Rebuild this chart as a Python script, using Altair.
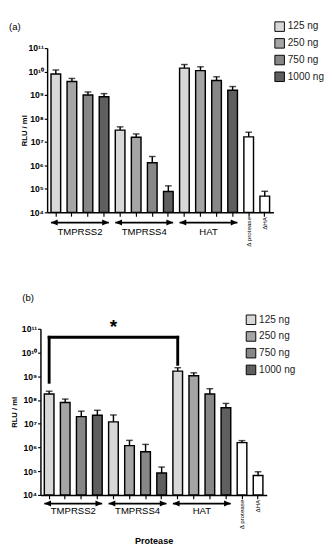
import altair as alt
import pandas as pd

FONT = "Liberation Sans"

# ---- data -------------------------------------------------------------
keys = ["T2_125", "T2_250", "T2_750", "T2_1000",
        "T4_125", "T4_250", "T4_750", "T4_1000",
        "HAT_125", "HAT_250", "HAT_750", "HAT_1000",
        "d_prot", "d_HA"]
doses = ["125 ng", "250 ng", "750 ng", "1000 ng"] * 3 + ["none", "none"]
dose_levels = ["125 ng", "250 ng", "750 ng", "1000 ng"]
dose_colors = ["#d8d8d8", "#a5a5a8", "#878787", "#5f5f5f"]
ctrl_colour = "#ffffff"

a_mean = [7.9e9, 3.8e9, 1.0e9, 8.5e8, 3.2e7, 1.6e7, 1.3e6, 7.8e4,
          1.4e10, 1.1e10, 4.2e9, 1.6e9, 1.65e7, 4.9e4]
a_err = [1.17e10, 5.1e9, 1.35e9, 1.15e9, 4.4e7, 2.2e7, 2.4e6, 1.35e5,
         2.0e10, 1.6e10, 6.0e9, 2.3e9, 2.6e7, 7.9e4]
b_mean = [1.8e8, 7.9e7, 2.0e7, 2.3e7, 1.2e7, 1.2e6, 6.6e5, 8.5e4,
          1.65e9, 1.05e9, 1.8e8, 4.7e7, 1.6e6, 6.6e4]
b_err = [2.35e8, 1.1e8, 3.4e7, 3.7e7, 2.35e7, 2.0e6, 1.35e6, 1.5e5,
         2.3e9, 1.4e9, 3.0e8, 7.2e7, 1.95e6, 9.5e4]

group_names = ["TMPRSS2", "TMPRSS4", "HAT"]
group_first = ["T2_125", "T4_125", "HAT_125"]
group_second = ["T2_250", "T4_250", "HAT_250"]
group_last = ["T2_1000", "T4_1000", "HAT_1000"]
ctrl_keys = ["d_prot", "d_HA"]
ctrl_names = ["Δ protease", "ΔHA"]

y_ticks = [1e4, 1e5, 1e6, 1e7, 1e8, 1e9, 1e10, 1e11]
y_tick_labels = ["10⁴", "10⁵", "10⁶", "10⁷", "10⁸", "10⁹", "10¹⁰", "10¹¹"]

sig_from = ["T2_125"]
sig_to = ["HAT_125"]
sig_mid = ["T4_125"]
sig_top = [4.4e10]
sig_left_low = [5.6e8]
sig_right_low = [3.2e9]
sig_text = ["*"]

label_expr = "[" + ",".join("'%s'" % s for s in y_tick_labels) + "][round(log(datum.value)/LN10)-4]"


def panel(mean, err, cfg):
    h = cfg["h"]
    bars_df = pd.DataFrame({"key": keys, "dose": doses, "mean": mean,
                            "err": err, "base": [1e4] * len(keys)})
    grp_df = pd.DataFrame({"first": group_first, "second": group_second,
                           "last": group_last, "name": group_names})
    ctrl_df = pd.DataFrame({"key": ctrl_keys, "name": ctrl_names})
    tag_df = pd.DataFrame({"tag": [cfg["tag"]]})

    xs_kw = dict(domain=keys, paddingInner=0.4, paddingOuter=0.24)
    if "xrange" in cfg:
        xs_kw["range"] = cfg["xrange"]
    xscale = alt.Scale(**xs_kw)
    yscale = alt.Scale(type="log", domain=[1e4, 1e11])

    xa_kw = dict(labels=False, ticks=True, tickSize=4, tickWidth=1.2,
                 tickColor="black", domainColor="black", domainWidth=1.5,
                 grid=False)
    if "xtitle" in cfg:
        xa_kw.update(title=cfg["xtitle"], titleFontSize=9.5,
                     titleFontWeight="bold", titleColor="black",
                     titlePadding=cfg["xtp"])
    else:
        xa_kw["title"] = None

    ya_kw = dict(values=y_ticks, labelExpr=label_expr, title="RLU / ml",
                 titleFontSize=8, titleFontWeight="bold", titleColor="black",
                 titlePadding=cfg["ytp"], labelFontSize=9,
                 labelFontWeight="bold", labelColor="black", labelPadding=1,
                 tickSize=3, tickWidth=1.2, tickColor="black",
                 domainColor="black", domainWidth=1.5, grid=False,
                 labelFlush=False, labelOverlap=False)
    if "yoff" in cfg:
        ya_kw["offset"] = cfg["yoff"]

    legend = alt.Legend(values=dose_levels, orient="none",
                        legendX=cfg["lx"], legendY=cfg["ly"], title=None,
                        symbolType="square", symbolSize=100,
                        symbolStrokeColor="black", symbolStrokeWidth=1,
                        symbolOpacity=1,
                        labelFontSize=10.5, labelFont=FONT, labelColor="#222222",
                        rowPadding=2.5, labelOffset=3, padding=0,
                        symbolOffset=0)

    bars = alt.Chart(bars_df).mark_bar(stroke="black", strokeWidth=1.5).encode(
        x=alt.X("key:N", scale=xscale, axis=alt.Axis(**xa_kw), sort=keys),
        y=alt.Y("mean:Q", scale=yscale, axis=alt.Axis(**ya_kw)),
        y2=alt.Y2("base"),
        fill=alt.Fill("dose:N",
                      scale=alt.Scale(domain=dose_levels + ["none"],
                                      range=dose_colors + [ctrl_colour]),
                      legend=legend),
    )
    err_rule = alt.Chart(bars_df).mark_rule(color="black", strokeWidth=1.5).encode(
        x="key:N", y="mean:Q", y2=alt.Y2("err"))
    caps = alt.Chart(bars_df).mark_tick(color="black", thickness=1.5, size=7).encode(
        x="key:N", y="err:Q")

    ay = alt.value(h + cfg["arrow_dy"])
    line = alt.Chart(grp_df).mark_rule(color="black", strokeWidth=1.8).encode(
        x=alt.X("first:N", bandPosition=0),
        x2=alt.X2("last", bandPosition=1),
        y=ay)
    lhead = alt.Chart(grp_df).mark_point(
        shape="M0,0L2,-0.9L2,0.9Z", filled=True, size=49, color="black",
        opacity=1, strokeWidth=0).encode(
        x=alt.X("first:N", bandPosition=0), y=ay)
    rhead = alt.Chart(grp_df).mark_point(
        shape="M0,0L-2,-0.9L-2,0.9Z", filled=True, size=49, color="black",
        opacity=1, strokeWidth=0).encode(
        x=alt.X("last:N", bandPosition=1), y=ay)
    glabel = alt.Chart(grp_df).mark_text(
        fontSize=10, dx=3.4, baseline="middle", color="black").encode(
        x=alt.X("second:N", bandPosition=1),
        y=alt.value(h + cfg["label_dy"]), text="name:N")
    clabel = alt.Chart(ctrl_df).mark_text(
        fontSize=6.5, angle=270, align="right", baseline="middle",
        color="black").encode(
        x="key:N", y=alt.value(h + 5), text="name:N")
    tag = alt.Chart(tag_df).mark_text(
        fontSize=10, align="left", baseline="top", color="black").encode(
        x=alt.value(cfg["tag_x"]), y=alt.value(cfg["tag_y"]), text="tag:N")

    layers = [bars, err_rule, caps, line, lhead, rhead, glabel, clabel, tag]

    if cfg.get("sig"):
        sig_df = pd.DataFrame({"a": sig_from, "b": sig_to, "m": sig_mid,
                               "top": sig_top, "llow": sig_left_low,
                               "rlow": sig_right_low, "t": sig_text})
        sc = alt.Chart(sig_df)
        hbar = sc.mark_rule(color="black", strokeWidth=3, strokeCap="square").encode(
            x="a:N", x2=alt.X2("b"), y="top:Q")
        lbar = sc.mark_rule(color="black", strokeWidth=3, strokeCap="square").encode(
            x="a:N", y="llow:Q", y2=alt.Y2("top"))
        rbar = sc.mark_rule(color="black", strokeWidth=3, strokeCap="square").encode(
            x="b:N", y="rlow:Q", y2=alt.Y2("top"))
        star = sc.mark_text(fontSize=20, fontWeight="bold", baseline="alphabetic",
                            color="black").encode(
            x="m:N", y=alt.value(cfg["star_y"]), text="t:N")
        layers += [hbar, lbar, rbar, star]

    return alt.layer(*layers).properties(width=cfg["w"], height=h)


cfg_a = dict(w=244, h=172, xrange=[7, 244], yoff=-7, ytp=0, arrow_dy=10.7,
             label_dy=20.7, tag="(a)", tag_x=-33, tag_y=-27, lx=245, ly=-28)
cfg_b = dict(w=237, h=174, ytp=3, arrow_dy=9, label_dy=17, tag="(b)",
             tag_x=-19, tag_y=-37, lx=215, ly=-15, xtitle="Protease", xtp=38,
             sig=True, star_y=4.6)

pa = panel(a_mean, a_err, cfg_a)
pb = panel(b_mean, b_err, cfg_b)

chart = alt.vconcat(pa, pb, spacing=47).resolve_scale(
    fill="independent").resolve_legend(fill="independent").properties(
    padding=0).configure(font=FONT).configure_view(stroke="transparent")

chart.save("out.html", embed_options={"renderer": "svg", "actions": False})
